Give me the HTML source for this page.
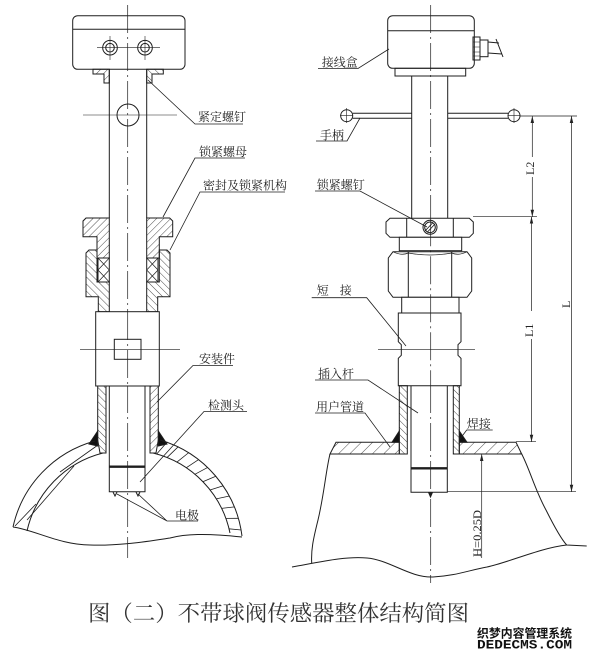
<!DOCTYPE html>
<html><head><meta charset="utf-8"><style>
html,body{margin:0;padding:0;background:#fff;}
svg{display:block}
text{font-family:"Liberation Serif","Noto Serif CJK SC",serif;fill:#222;stroke:none}
</style></head><body>
<svg width="600" height="658" viewBox="0 0 600 658" xmlns="http://www.w3.org/2000/svg">
<defs>
<pattern id="hA" patternUnits="userSpaceOnUse" width="5" height="5" patternTransform="rotate(45)"><line x1="0" y1="0" x2="0" y2="5" stroke="#222" stroke-width="0.8"/></pattern>
<pattern id="hB" patternUnits="userSpaceOnUse" width="5" height="5" patternTransform="rotate(-45)"><line x1="0" y1="0" x2="0" y2="5" stroke="#222" stroke-width="0.8"/></pattern>
<pattern id="hP" patternUnits="userSpaceOnUse" width="8" height="8" patternTransform="rotate(45)"><line x1="0" y1="0" x2="0" y2="8" stroke="#222" stroke-width="0.8"/></pattern>
<marker id="ar" viewBox="0 0 10 10" refX="10" refY="5" markerUnits="userSpaceOnUse" markerWidth="7" markerHeight="7" orient="auto-start-reverse"><path d="M0,2.5 L10,5 L0,7.5 z" fill="#222"/></marker>
</defs>
<rect width="600" height="658" fill="#fff"/>

<g fill="none" stroke="#1e1e1e" stroke-width="1">
<!-- ============ LEFT FIGURE ============ -->
<line x1="127.7" y1="5" x2="127.7" y2="558" stroke-width="0.7" stroke-dasharray="28,4,2,4"/>
<rect x="72.7" y="15.7" width="112.3" height="53.6" rx="5"/>
<line x1="72.7" y1="29.3" x2="185" y2="29.3"/>
<circle cx="110" cy="47.7" r="7.3"/><circle cx="110" cy="47.7" r="4.3"/>
<circle cx="145" cy="47.7" r="7.3"/><circle cx="145" cy="47.7" r="4.3"/>
<g stroke-width="0.6">
<line x1="97" y1="47.7" x2="160" y2="47.7"/>
<line x1="110" y1="36" x2="110" y2="60"/>
<line x1="145" y1="36" x2="145" y2="60"/>
</g>
<path d="M93,69.3 L109.3,69.3 L109.3,83 L104,83 L104,74 L93,74 Z" fill="url(#hA)"/>
<path d="M146.7,69.3 L163.3,69.3 L163.3,74 L152,74 L152,83 L146.7,83 Z" fill="url(#hB)"/>
<line x1="109.3" y1="69.3" x2="109.3" y2="218"/>
<line x1="146.7" y1="69.3" x2="146.7" y2="218"/>
<circle cx="128" cy="115" r="11"/>
<line x1="83" y1="115" x2="177" y2="115" stroke-width="0.6"/>

<!-- nut -->
<path d="M83,221 L86,218 L109.3,218 L109.3,258 L97,258 L97,236.7 L83,236.7 Z" fill="url(#hA)"/>
<path d="M146.7,218 L169.7,218 L172.7,221 L172.7,236.7 L159.3,236.7 L159.3,258 L146.7,258 Z" fill="url(#hA)"/>
<!-- seals -->
<rect x="98" y="258" width="11.3" height="24"/>
<path d="M98,258 L109.3,270 M109.3,258 L98,270 M98,270 L109.3,282 M109.3,270 L98,282" stroke-width="0.7"/>
<rect x="146.7" y="258" width="11.3" height="24"/>
<path d="M146.7,258 L158,270 M158,258 L146.7,270 M146.7,270 L158,282 M158,270 L146.7,282" stroke-width="0.7"/>
<!-- body -->
<path d="M86,253 L89,250 L97,250 L97,282 L109.3,282 L109.3,311.7 L98.3,311.7 L98.3,296.7 L86,296.7 Z" fill="url(#hB)"/>
<path d="M170,253 L167,250 L159.3,250 L159.3,282 L146.7,282 L146.7,311.7 L157.7,311.7 L157.7,296.7 L170,296.7 Z" fill="url(#hB)"/>
<!-- mounting block -->
<rect x="95.7" y="311.7" width="63.6" height="74.3" fill="#fff"/>
<rect x="114.3" y="339.3" width="26.7" height="20"/>
<line x1="80" y1="349.3" x2="180" y2="349.3" stroke-width="0.6"/>
<line x1="127.7" y1="312" x2="127.7" y2="386" stroke-width="0.7" stroke-dasharray="28,4,2,4"/>
<!-- sleeve walls -->
<path d="M97.7,386 L106,386 L106,453 L100,453 L97.7,440 Z" fill="url(#hB)"/>
<path d="M150,386 L158.3,386 L158.3,440 L156,453 L150,453 Z" fill="url(#hA)"/>
<!-- probe -->
<path d="M109.3,386 L109.3,491.7 L145,491.7 L145,386"/>
<line x1="109.3" y1="466.7" x2="145" y2="466.7" stroke-width="2.4"/>
<path d="M113,492 L115,496 L117,492 M136,492 L138,496 L140,492" stroke-width="1"/>
<!-- welds -->
<path d="M89,444 L97.7,431 L97.7,446 Z" fill="#111"/>
<path d="M158.3,431 L167,444 L158.3,446 Z" fill="#111"/>
<!-- pipe dome -->
<path d="M13,527 A115,115 0 0 1 95,441"/>
<path d="M160,440 A115,115 0 0 1 242,536"/>
<path d="M27,531 A104,104 0 0 1 103,453"/>
<path d="M153,453 A104,104 0 0 1 230,533"/>
<g stroke-width="0.8">
<path d="M15,526 L36,504 M27,520 L74,466 M60,472 L98,445"/>
<path d="M167.3,441.9 L156.7,454 M178.4,446.6 L167,457.6 M188.9,452.5 L176.8,462.2 M198.8,459.4 L186.2,467.8 M207.9,467.3 L194.9,474.3 M216.1,476.1 L202.8,481.8 M223.3,485.7 L210,490 M229.5,496 L216.2,498.9 M234.6,506.9 L221.5,508.4 M238.5,518.3 L225.7,518.4 M241.3,530 L228.9,528.8"/>
</g>
<path d="M13,527 C35,530 60,545 90,545 C120,546 150,541 170,538 C185,534 205,533 242,537"/>

<!-- left leaders -->
<g stroke-width="0.8">
<path d="M148,80 L195,124 L243,124"/>
<path d="M163,217 L195,158 L245,158"/>
<path d="M170,250 L200,192 L285,192"/>
<path d="M157,402 L193,365.5 L233,365.5"/>
<path d="M140,482 L204,411.5 L247,411.5"/>
<path d="M117,494 L167,521 L198,521 M138,494 L167,521"/>
</g>

<!-- ============ RIGHT FIGURE ============ -->
<line x1="430.7" y1="5" x2="430.7" y2="583" stroke-width="0.7" stroke-dasharray="28,4,2,4"/>
<rect x="387.7" y="15.7" width="86.6" height="52.6" rx="5"/>
<line x1="387.7" y1="30.7" x2="474.3" y2="30.7"/>
<rect x="473" y="37" width="7" height="23"/>
<path d="M473,42 L480,42 M473,47 L480,47 M473,52 L480,52 M473,56 L480,56" stroke-width="0.6"/>
<rect x="480" y="40" width="8" height="16.7"/>
<path d="M488,42 L499,43 M488,53 L502,54 M496,39 L503,57"/>
<rect x="395" y="68.3" width="70.7" height="7.7"/>
<line x1="411.7" y1="76" x2="411.7" y2="218.3"/>
<line x1="447.7" y1="76" x2="447.7" y2="218.3"/>
<!-- handle -->
<path d="M352.7,113.3 L411.7,113.3 M352.7,118.3 L411.7,118.3 M447.7,113.3 L508,113.3 M447.7,118.3 L508,118.3"/>
<circle cx="346.7" cy="115.7" r="6"/>
<circle cx="514" cy="115.7" r="6"/>
<path d="M346.7,108 L346.7,123 M514,108 L514,123 M340,115.7 L353,115.7 M508,115.7 L520,115.7" stroke-width="0.6"/>
<!-- dimensions -->
<g stroke-width="0.7">
<line x1="520" y1="116" x2="577" y2="116"/>
<line x1="473" y1="216.7" x2="537" y2="216.7"/>
<line x1="516" y1="441.7" x2="536" y2="441.7"/>
<line x1="447.3" y1="491.7" x2="576" y2="491.7"/>
<line x1="532.3" y1="116" x2="532.3" y2="157" marker-start="url(#ar)"/>
<line x1="532.3" y1="177" x2="532.3" y2="216.7" marker-end="url(#ar)"/>
<line x1="531.5" y1="216.7" x2="531.5" y2="311" marker-start="url(#ar)"/>
<line x1="531.5" y1="339" x2="531.5" y2="441.7" marker-end="url(#ar)"/>
<line x1="571.5" y1="116" x2="571.5" y2="491.7" marker-start="url(#ar)" marker-end="url(#ar)"/>
<line x1="481.7" y1="454" x2="481.7" y2="558" marker-start="url(#ar)"/>
</g>
<!-- lock nut -->
<path d="M386,222 L390,218.3 L469.3,218.3 L473.3,222 L473.3,233.3 L469.3,237.3 L390,237.3 L386,233.3 Z" fill="#fff"/>
<line x1="406.7" y1="218.3" x2="406.7" y2="237.3"/>
<line x1="453.3" y1="218.3" x2="453.3" y2="237.3"/>
<circle cx="430" cy="227.3" r="7" fill="#fff"/>
<circle cx="430" cy="227.3" r="5.3"/>
<path d="M425,231 L433,222.5 M427,232.5 L435,224" stroke-width="0.9"/>
<rect x="399.3" y="237.3" width="62.4" height="13.4" fill="#fff"/>
<!-- big hex -->
<path d="M388.3,258 L393,251.7 L467,251.7 L471.7,258 L471.7,291 L467,297.3 L393,297.3 L388.3,291 Z" fill="#fff"/>
<line x1="408.3" y1="251.7" x2="408.3" y2="297.3"/>
<line x1="451.7" y1="251.7" x2="451.7" y2="297.3"/>
<path d="M393,251.7 Q401,256 408.3,253 Q430,257 451.7,253 Q459,256 467,251.7" stroke-width="0.7"/>
<rect x="401.7" y="297.3" width="57.3" height="15.7" fill="#fff"/>
<!-- short connector -->
<path d="M398.3,313 L461,313 L461,341.7 L458,344.7 L458,355.3 L461,358.3 L461,385.7 L398.3,385.7 L398.3,358.3 L401.3,355.3 L401.3,344.7 L398.3,341.7 Z" fill="#fff"/>
<line x1="378" y1="349.3" x2="475" y2="349.3" stroke-width="0.6"/>
<line x1="430.7" y1="218.3" x2="430.7" y2="386" stroke-width="0.7" stroke-dasharray="28,4,2,4"/>
<!-- sleeve -->
<rect x="399.3" y="385.7" width="8" height="68.3" fill="url(#hB)"/>
<rect x="453.3" y="385.7" width="6" height="68.3" fill="url(#hB)"/>
<path d="M411,385.7 L411,492.3 L447.3,492.3 L447.3,385.7"/>
<line x1="411" y1="468.3" x2="447.3" y2="468.3" stroke-width="2.4"/>
<path d="M428.5,492.3 L430.5,497 L432.5,492.3" fill="#222"/>
<!-- pipe wall -->
<path d="M336,442.3 L399.3,442.3 L399.3,454 L330,454 Z" fill="url(#hP)"/>
<path d="M459.3,442.3 L516,442.3 L521.7,454 L459.3,454 Z" fill="url(#hP)"/>
<path d="M392,442.3 L399.3,431 L399.3,442.3 Z" fill="#111"/>
<path d="M459.3,431 L467,442.3 L459.3,442.3 Z" fill="#111"/>
<path d="M330,454 C326,470 324,495 318,520 C313,540 311,550 311.7,563"/>
<path d="M521.7,454 C530,470 535,490 546,510 C555,528 562,540 566.7,545 L586.7,546"/>
<path d="M292,567 C320,562 345,556 367,558 C390,560 410,578 433,577 C455,576 470,570 487,567 C510,562 540,548 566.7,545"/>

<!-- right leaders -->
<g stroke-width="0.8">
<path d="M389,49 L358,68.5 L318,68.5"/>
<path d="M360,118 L347,141 L316,141"/>
<path d="M427,227 L360,191 L315,191"/>
<path d="M406,346 L366.7,297.7 L311.7,297.7"/>
<path d="M418,413 L368,380 L315,380"/>
<path d="M390,447 L365,413 L315,413"/>
<path d="M460,439 L466.7,430 L492.7,430"/>
</g>
</g>

<!-- labels -->
<g font-size="12">
<text x="198" y="121">紧定螺钉</text>
<text x="199" y="156">锁紧螺母</text>
<text x="203" y="189.5">密封及锁紧机构</text>
<text x="199" y="363">安装件</text>
<text x="208" y="409.5">检测头</text>
<text x="175" y="519.5">电极</text>
<text x="321.7" y="66.5">接线盒</text>
<text x="320" y="139.5">手柄</text>
<text x="316.7" y="189">锁紧螺钉</text>
<text x="316.7" y="294.5">短</text>
<text x="339.7" y="294.5">接</text>
<text x="318" y="378">插入杆</text>
<text x="316" y="411">用户管道</text>
<text x="466.7" y="428">焊接</text>
</g>
<g font-size="12" style="font-family:'Liberation Sans',sans-serif">
<text transform="translate(534,175) rotate(-90)">L2</text>
<text transform="translate(533,337) rotate(-90)">L1</text>
<text transform="translate(570,308) rotate(-90)">L</text>
<text transform="translate(481,557) rotate(-90)" textLength="47" lengthAdjust="spacingAndGlyphs">H=0.25D</text>
</g>

<text x="88" y="621" font-size="22" textLength="381" lengthAdjust="spacingAndGlyphs" style="fill:#333">图（二）不带球阀传感器整体结构简图</text>
<text x="477" y="637.5" font-size="12" font-weight="bold" textLength="95" lengthAdjust="spacingAndGlyphs" style="font-family:'Noto Sans CJK SC',sans-serif;fill:#111">织梦内容管理系统</text>
<text x="477" y="648.5" font-size="13" font-weight="bold" textLength="95" lengthAdjust="spacingAndGlyphs" style="font-family:'Liberation Mono',monospace;fill:#111">DEDECMS.COM</text>
</svg>
</body></html>
